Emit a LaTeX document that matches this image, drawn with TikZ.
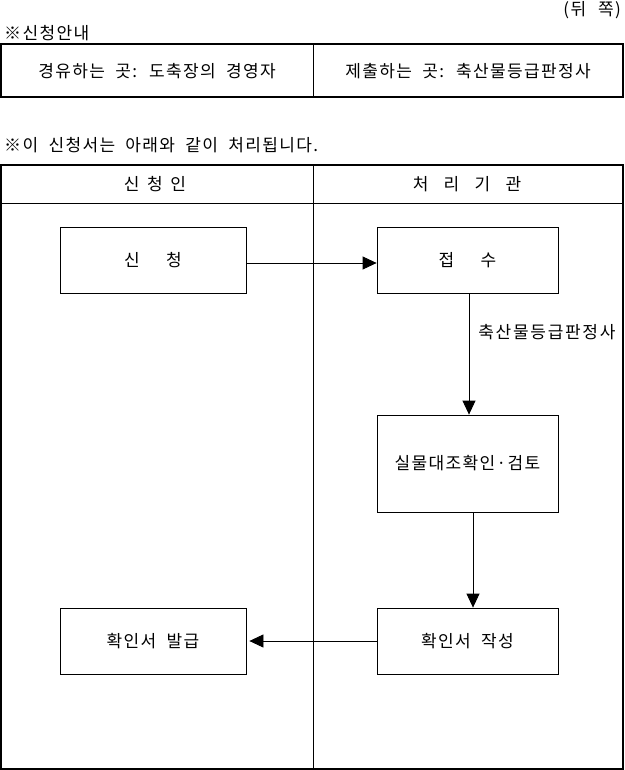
\documentclass[tikz,border=0pt]{standalone}
\usepackage{fontspec}
\setmainfont{Noto Sans CJK KR}[WordSpace=2.0, LetterSpace=8]
\usetikzlibrary{arrows.meta,positioning}

\begin{document}
\begin{tikzpicture}[
  x=1pt, y=-1pt,
  txt/.style={font=\fontsize{17}{19}\selectfont, inner sep=0pt, anchor=center},
  stepbox/.style={draw, line width=0.8pt, inner sep=0pt, font=\fontsize{17}{19}\selectfont},
  outer/.style={line width=2pt},
  inner/.style={line width=0.8pt},
  flow/.style={line width=0.8pt, -{Triangle[length=14pt,width=13pt]}}
]
  \useasboundingbox (0,0) rectangle (624,770);

  %% Page note and guide table
  \node[txt, anchor=east] (side) at (621,10) {(뒤\hspace{0.7em}쪽)};
  \node[txt, anchor=west] (guide) at (4,33) {※신청안내};
  \draw[outer] (1,44) rectangle (623,97);
  \draw[inner] (313,44) -- (313,97);
  \node[txt] (via) at (157,71) {경유하는 곳: 도축장의 경영자};
  \node[txt] (submit) at (468,71) {제출하는 곳: 축산물등급판정사};

  %% Process table
  \node[txt, anchor=west] (note) at (4,145) {※이 신청서는 아래와 같이 처리됩니다.};
  \draw[outer] (1,165) rectangle (623,769);
  \draw[inner] (1,203) -- (623,203);
  \draw[inner] (313,165) -- (313,769);
  \node[txt] (applicant) at (155,184) {신\hspace{0.45em}청\hspace{0.45em}인};
  \node[txt] (agency) at (467,184) {처\hspace{0.9em}리\hspace{0.9em}기\hspace{0.9em}관};

  %% Steps
  \node[stepbox, minimum width=186pt, minimum height=66pt] (apply) at (153,260) {신\hspace{1.55em}청};
  \node[stepbox, minimum width=181pt, minimum height=66pt] (receive) at (467.5,260) {접\hspace{1.55em}수};
  \node[stepbox, minimum width=181pt, minimum height=97pt] (check) at (467.5,463.5) {실물대조확인·검토};
  \node[stepbox, minimum width=181pt, minimum height=66pt] (write) at (467.5,641) {확인서 작성};
  \node[stepbox, minimum width=186pt, minimum height=66pt] (issue) at (153,641) {확인서 발급};

  %% Connectors
  \draw[flow] (apply.east |- 0,263) -- (receive.west |- 0,263);
  \draw[flow] (receive.south -| 469,0) -- node[txt, anchor=west, xshift=9pt, pos=0.32] (grader) {\addfontfeatures{LetterSpace=10}축산물등급판정사} (check.north -| 469,0);
  \draw[flow] (check.south -| 473,0) -- (write.north -| 473,0);
  \draw[flow] (write.west) -- ([xshift=3pt]issue.east);
\end{tikzpicture}
\end{document}
